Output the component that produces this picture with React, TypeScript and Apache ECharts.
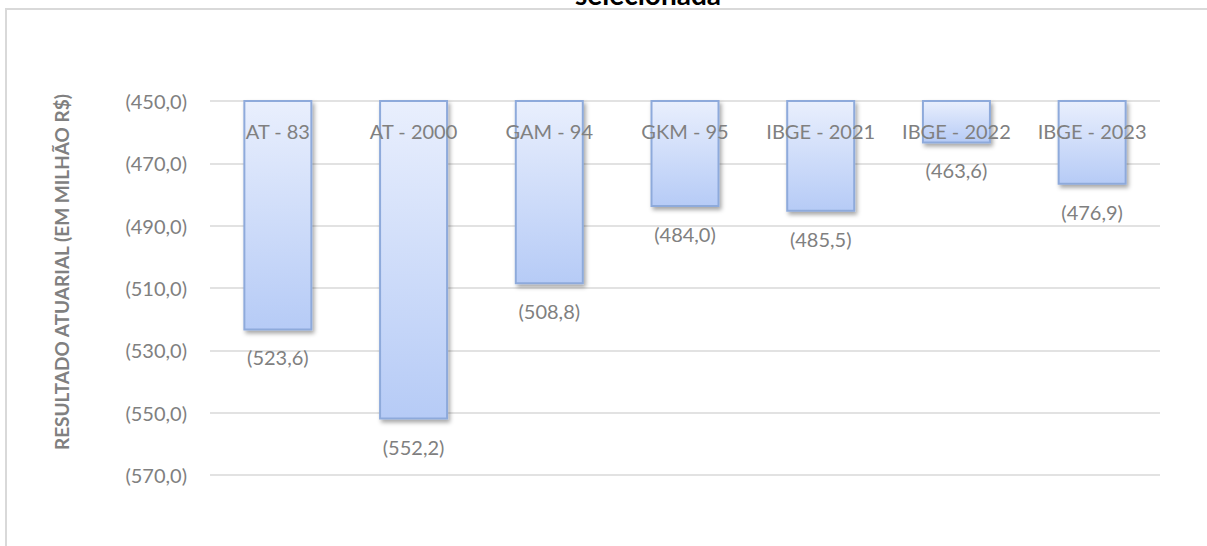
import React, { useEffect, useRef } from 'react';
import * as echarts from 'echarts';

const categories = ['AT - 83', 'AT - 2000', 'GAM - 94', 'GKM - 95', 'IBGE - 2021', 'IBGE - 2022', 'IBGE - 2023'];
const values = [-523.6, -552.2, -508.8, -484.0, -485.5, -463.6, -476.9];
const yTicks = [-570, -550, -530, -510, -490, -470, -450];
const yMin = -570;
const yMax = -450;
const titleText = 'selecionada';
const yAxisName = 'RESULTADO ATUARIAL (EM MILHÃO R$)';

const fmt = (v: number) => `(${Math.abs(v).toFixed(1).replace('.', ',')})`;

const FONT = 'Lato';
const GRAY = '#808080';

export default function App() {
  const ref = useRef<HTMLDivElement>(null);
  useEffect(() => {
    if (!ref.current) return;
    const chart = echarts.init(ref.current, undefined, { renderer: 'svg' });
    chart.setOption({
      animation: false,
      backgroundColor: '#ffffff',
      grid: { left: 210, right: 47, top: 101, bottom: 71, containLabel: false },
      xAxis: {
        type: 'category',
        data: categories,
        position: 'top',
        z: 10,
        axisLine: { show: false },
        axisTick: { show: false },
        axisLabel: { inside: true, interval: 0, margin: 20, color: GRAY, fontSize: 20, fontFamily: FONT },
      },
      yAxis: {
        type: 'value',
        min: yMin,
        max: yMax,
        axisLine: { show: false },
        axisTick: { show: false, customValues: yTicks },
        axisLabel: { customValues: yTicks, formatter: (v: number) => fmt(v), margin: 23, color: GRAY, fontSize: 20, fontFamily: FONT },
        splitLine: { show: true, lineStyle: { color: '#d9d9d9', width: 1.5 } },
      },
      series: [
        {
          type: 'bar',
          data: values,
          barWidth: 69,
          clip: true,
          itemStyle: {
            color: new echarts.graphic.LinearGradient(0, 0, 0, 1, [
              { offset: 0, color: '#e9effd' },
              { offset: 1, color: '#b6cbf6' },
            ]),
            borderColor: '#8eaadb',
            borderWidth: 2,
            shadowBlur: 4,
            shadowOffsetX: 2,
            shadowOffsetY: 3,
            shadowColor: 'rgba(0,0,0,0.35)',
          },
          label: {
            show: true,
            position: 'bottom',
            distance: 17,
            formatter: (p: any) => fmt(p.value),
            color: GRAY,
            fontSize: 20,
            fontFamily: FONT,
          },
        },
      ],
      graphic: [
        {
          type: 'rect',
          shape: { x: 6, y: 9, width: 1400, height: 800 },
          style: { fill: 'none', stroke: '#d9d9d9', lineWidth: 2 },
          z: -10,
          silent: true,
        },
        {
          type: 'text',
          x: 648,
          y: 8,
          style: { text: titleText, fill: '#000000', font: `bold 28px ${FONT}`, align: 'center', verticalAlign: 'bottom' },
        },
        {
          type: 'text',
          x: 61,
          y: 272,
          rotation: Math.PI / 2,
          style: { text: yAxisName, fill: GRAY, font: `bold 19px ${FONT}`, align: 'center', verticalAlign: 'middle' },
        },
      ],
    });
    return () => chart.dispose();
  }, []);
  return <div ref={ref} style={{ position: 'absolute', left: 0, top: 0, width: 1207, height: 546 }} />;
}
